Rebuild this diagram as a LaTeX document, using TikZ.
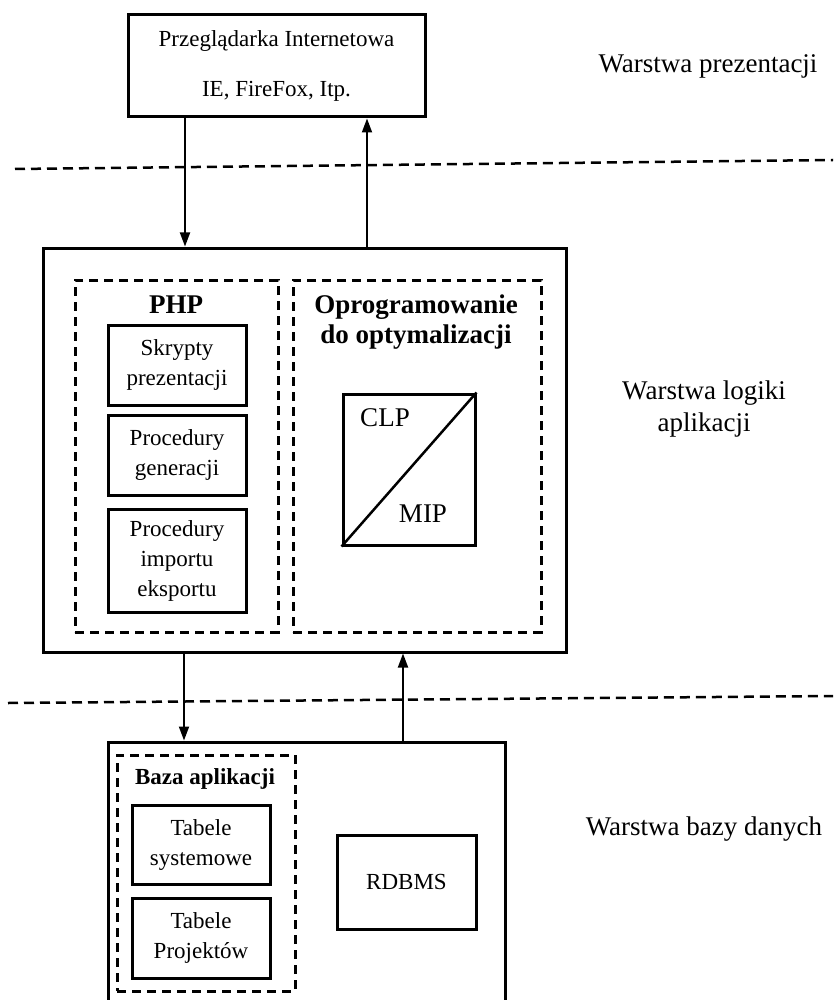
\documentclass[tikz,border=0pt]{standalone}
\usepackage{fontspec}
\setmainfont{Liberation Serif}
\usetikzlibrary{arrows.meta}
\begin{document}
\begin{tikzpicture}[x=1pt,y=-1pt,
  box/.style={draw,line width=3pt,inner sep=0pt,align=center,font=\fontsize{23}{30}\selectfont},
  dbox/.style={draw,line width=3pt,dash pattern=on 9pt off 6pt,inner sep=0pt},
  arr/.style={line width=1.8pt,-{Triangle[length=14pt,width=10pt]}},
  sep/.style={line width=2.5pt,dash pattern=on 10pt off 6pt},
  lbl/.style={inner sep=0pt,align=center,font=\fontsize{27}{32}\selectfont},
  ttl/.style={inner sep=0pt,align=center,font=\bfseries\fontsize{27}{30}\selectfont}]
\useasboundingbox (0,0) rectangle (833,1000);
\clip (0,0) rectangle (833,1000);
\fill[white] (0,0) rectangle (833,1000);
% presentation layer
\node[box,minimum width=297pt,minimum height=102pt,font=\fontsize{23}{50}\selectfont] (browser) at (276.5,66) {Przeglądarka Internetowa\\IE, FireFox, Itp.};
% logic layer
\node[box,minimum width=523pt,minimum height=404pt] (logic) at (304.5,450) {};
\node[dbox,minimum width=203pt,minimum height=352pt] (php) at (176.5,456) {};
\node[dbox,minimum width=248pt,minimum height=352pt] (opt) at (417,456) {};
\node[ttl] (phpl) at (176,305) {PHP};
\node[ttl] (optl) at (416,322) {Oprogramowanie\\do optymalizacji};
\node[box,minimum width=138pt,minimum height=80pt] (skr) at (177,365) {Skrypty\\prezentacji};
\node[box,minimum width=138pt,minimum height=80pt] (gen) at (177,455) {Procedury\\generacji};
\node[box,minimum width=138pt,minimum height=103pt] (imp) at (177,560.5) {Procedury\\importu\\eksportu};
\node[box,minimum width=132pt,minimum height=151pt] (solver) at (409,469.5) {};
\draw[line width=2.5pt] (solver.south west) -- (solver.north east);
\node[lbl] (clp) at (385,418) {CLP};
\node[lbl] (mip) at (423,514) {MIP};
% database layer
\node[box,minimum width=397pt,minimum height=300pt] (db) at (306.5,892) {};
\node[dbox,minimum width=178pt,minimum height=236pt] (baza) at (206,873) {};
\node[ttl,font=\bfseries\fontsize{23}{30}\selectfont] (bazal) at (205,779) {Baza aplikacji};
\node[box,minimum width=138pt,minimum height=79pt] (sys) at (201,844.5) {Tabele\\systemowe};
\node[box,minimum width=138pt,minimum height=80pt] (proj) at (201,938) {Tabele\\Projektów};
\node[box,minimum width=139pt,minimum height=94pt] (rdbms) at (406.5,882) {RDBMS};
% arrows
\draw[arr] ([xshift=-91.5pt]browser.south) -- ([xshift=-119.5pt]logic.north);
\draw[arr] ([xshift=62.5pt]logic.north) -- ([xshift=90.5pt]browser.south);
\draw[arr] ([xshift=-120.5pt]logic.south) -- ([xshift=-122.5pt]db.north);
\draw[arr] ([xshift=96.5pt]db.north) -- ([xshift=98.5pt]logic.south);
% layer separators
\coordinate (s1a) at (15,169); \coordinate (s1b) at (833,160);
\coordinate (s2a) at (8,703); \coordinate (s2b) at (833,696);
\draw[sep] (s1a) -- (s1b);
\draw[sep] (s2a) -- (s2b);
% layer labels
\node[lbl] (l1) at (708,66) {Warstwa prezentacji};
\node[lbl] (l2) at (704,409) {Warstwa logiki\\aplikacji};
\node[lbl] (l3) at (704,829) {Warstwa bazy danych};
\end{tikzpicture}
\end{document}
